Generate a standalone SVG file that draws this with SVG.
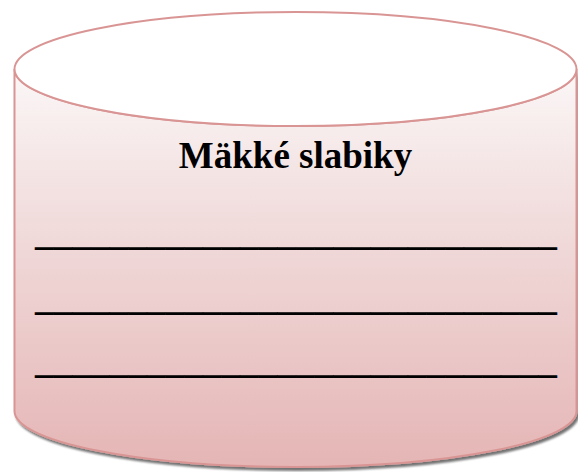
<svg xmlns="http://www.w3.org/2000/svg" width="578" height="472" viewBox="0 0 578 472">
  <defs>
    <linearGradient id="body" x1="0" y1="0" x2="0" y2="1">
      <stop offset="0" stop-color="#fbf7f7"/>
      <stop offset="0.35" stop-color="#f2dede"/>
      <stop offset="1" stop-color="#e5b5b5"/>
    </linearGradient>
    <filter id="shadow" x="-5%" y="-5%" width="110%" height="115%">
      <feGaussianBlur in="SourceAlpha" stdDeviation="1.2"/>
      <feOffset dx="1.5" dy="2.5" result="o"/>
      <feComponentTransfer><feFuncA type="linear" slope="0.55"/></feComponentTransfer>
      <feMerge><feMergeNode/><feMergeNode in="SourceGraphic"/></feMerge>
    </filter>
    <style>
      .outline { stroke: #d99594; stroke-width: 2; }
      .title { font-family: "Liberation Serif", "Times New Roman", serif; font-weight: bold; font-size: 37px; fill: #000; }
      .blank { font-family: "Liberation Serif", "Times New Roman", serif; font-weight: bold; font-size: 37px; fill: #000; }
    </style>
  </defs>
  <g id="cylinder">
    <path class="outline" filter="url(#shadow)" fill="url(#body)" d="M14.5,69 L14.5,411 A281,56 0 0 0 576.5,411 L576.5,69 A281,57 0 0 1 14.5,69 Z"/>
    <ellipse class="outline" fill="#ffffff" cx="295.5" cy="69" rx="281" ry="57"/>
  </g>
  <g id="label">
    <text class="title" x="295.5" y="168" text-anchor="middle">Mäkké slabiky</text>
    <text class="blank" x="35" y="245" textLength="522" lengthAdjust="spacingAndGlyphs">____________________________</text>
    <text class="blank" x="35" y="309.5" textLength="522" lengthAdjust="spacingAndGlyphs">____________________________</text>
    <text class="blank" x="35" y="373" textLength="522" lengthAdjust="spacingAndGlyphs">____________________________</text>
  </g>
</svg>
